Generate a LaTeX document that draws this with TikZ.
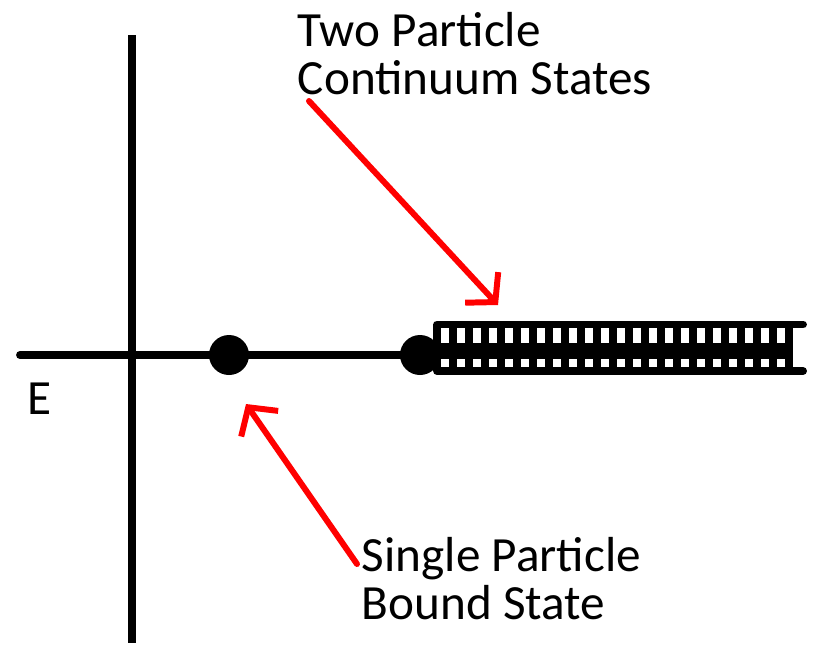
\documentclass[tikz,border=0pt]{standalone}
\usepackage{fontspec}
\setmainfont{Carlito}
\usetikzlibrary{arrows.meta}
\begin{document}
\begin{tikzpicture}[x=0.02cm, y=-0.02cm,
	every path/.style={line width=4.5pt},
	dot/.style={circle, inner sep=0, minimum size=0.8cm, draw=none,
				fill=black},
	cut/.style={line width=4.5pt, line cap=round},
	pointer/.style={draw=red, line width=3.4pt, line cap=round, line join=round,
				-{Straight Barb[length=0.4cm, width=0.9cm, line width=3.4pt]}},
	lbl/.style={inner sep=0, align=left, font=\fontsize{28}{27.6}\selectfont}]
	\useasboundingbox (0,0) rectangle (813,646);
	% axes
	\coordinate (eleft) at (20,355);
	\coordinate (vtop) at (132,35);
	\coordinate (vbot) at (132,643);
	\node[dot] (bound) at (229,355) {};
	\node[dot] (thresh) at (420,355) {};
	\draw[line cap=round] (eleft) -- (thresh.center);
	\draw (vtop) -- (vbot);
	\node[lbl, anchor=north west] (elabel) at (24,379) {E};
	% continuum cut
	\draw[cut] (437,324.5) -- (803,324.5);
	\draw[cut] (437,371) -- (803,371);
	\draw[line width=9pt] (437,351) -- (790,351);
	\foreach \k in {0,...,22}
		\draw[line width=4.6pt] (437+16*\k,324.5) -- (437+16*\k,371);
	% labels and pointers
	\node[lbl, anchor=north west] (contlabel) at (294,8) {Two Particle\\Continuum States};
	\node[lbl, anchor=north west] (boundlabel) at (358,533) {Single Particle\\Bound State};
	\coordinate (ctail) at (309,101);
	\coordinate (ctip) at (498,305);
	\coordinate (btail) at (357,564);
	\coordinate (btip) at (246,404);
	\draw[pointer] (ctail) -- (ctip);
	\draw[pointer] (btail) -- (btip);
\end{tikzpicture}
\end{document}
